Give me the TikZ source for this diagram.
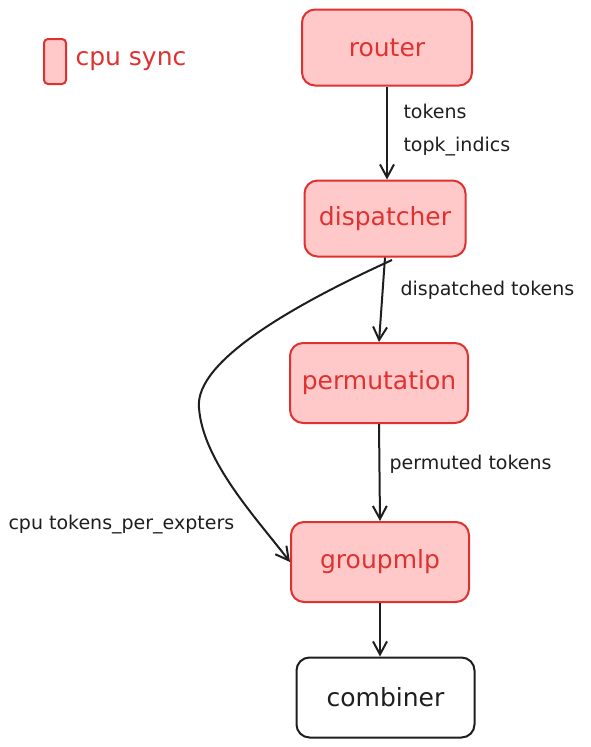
\documentclass[tikz,border=0pt]{standalone}
\usepackage{fontspec}
\setmainfont{DejaVu Sans}
\usetikzlibrary{arrows.meta}
\definecolor{syncred}{HTML}{E03131}
\definecolor{syncfill}{HTML}{FFC9C9}
\definecolor{inkdark}{HTML}{1E1E1E}

\begin{document}
\begin{tikzpicture}[x=1pt,y=-1pt,
  stagebox/.style={draw=syncred,fill=syncfill,line width=2pt,rounded corners=13pt,
    minimum width=170pt,minimum height=76pt,text=syncred,font=\fontsize{25}{30}\selectfont},
  plainbox/.style={draw=inkdark,fill=white,line width=2pt,rounded corners=13pt,
    minimum width=178pt,minimum height=80pt,text=inkdark,font=\fontsize{25}{30}\selectfont},
  flow/.style={draw=inkdark,line width=2pt,-{Straight Barb[length=13pt,width=14pt,line width=2pt]}},
  flowlabel/.style={anchor=west,text=inkdark,font=\fontsize{19}{23}\selectfont}]
  \useasboundingbox (0,0) rectangle (591,747);
  % legend
  \node[draw=syncred,fill=syncfill,line width=2pt,rounded corners=4pt,
    minimum width=22pt,minimum height=45pt] (legendbox) at (55,61.5) {};
  \node[anchor=west,text=syncred,font=\fontsize{25}{30}\selectfont] (legendtext) at (72,61) {cpu sync};
  % stages
  \node[stagebox] (router) at (387,47.5) {router};
  \node[stagebox,minimum width=161pt] (dispatcher) at (385,218.5) {dispatcher};
  \node[stagebox,minimum width=178pt,minimum height=80pt] (permutation) at (379,383) {permutation};
  \node[stagebox,minimum width=178pt,minimum height=80pt] (groupmlp) at (380,562) {groupmlp};
  \node[plainbox] (combiner) at (385.5,697.5) {combiner};
  % connectors
  \draw[flow] (router.south) -- (router.south |- dispatcher.north);
  \draw[flow] (dispatcher.south) -- (permutation.north);
  \draw[flow] (permutation.south) -- (groupmlp.north);
  \draw[flow] (groupmlp.south) -- (groupmlp.south |- combiner.north);
  \coordinate (bendstart) at (392,260);
  \coordinate (bendmid) at (199,408);
  \draw[flow] (bendstart) .. controls (300,302) and (194,360) .. (bendmid)
    .. controls (203,462) and (258,520) .. (groupmlp.west);
  % labels
  \node[flowlabel] (ltokens) at (400,111) {tokens};
  \node[flowlabel] (ltopk) at (400,147) {topk\_indics};
  \node[flowlabel] (ldispatched) at (397,290) {dispatched tokens};
  \node[flowlabel] (lpermuted) at (386,464) {permuted tokens};
  \node[flowlabel] (lcpu) at (5,525) {cpu tokens\_per\_expters};
\end{tikzpicture}
\end{document}
